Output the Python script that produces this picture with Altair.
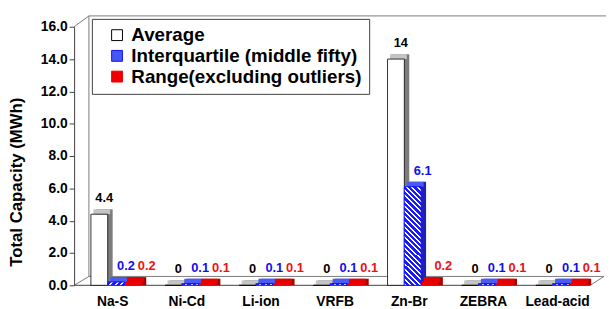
import altair as alt
import pandas as pd

techs = ["Na-S", "Ni-Cd", "Li-ion", "VRFB", "Zn-Br", "ZEBRA", "Lead-acid"]
series_names = ["Average", "Interquartile (middle fifty)", "Range(excluding outliers)"]
average = [4.4, 0, 0, 0, 14, 0, 0]
interquartile = [0.2, 0.1, 0.1, 0.1, 6.1, 0.1, 0.1]
range_excl = [0.2, 0.1, 0.1, 0.1, 0.2, 0.1, 0.1]
y_ticks = [0, 2, 4, 6, 8, 10, 12, 14, 16]

rows = []
for i, t in enumerate(techs):
    for s, vals in zip(series_names, [average, interquartile, range_excl]):
        rows.append({"tech": t, "series": s, "value": vals[i]})
df = pd.DataFrame(rows)

FONT = "Liberation Sans"
fill_colors = ["#ffffff", "#4656f2", "#ee0000"]
stroke_colors = ["#000000", "#1010ff", "#ee0000"]
side_colors = ["#7c7c7c", "#2020b8", "#a80000"]
top_colors = ["#c4c4c4", "#4a5af4", "#e80000"]
text_colors = ["#000000", "#1010ee", "#ee1111"]

x_enc = alt.X(
    "tech:N",
    sort=techs,
    scale=alt.Scale(domain=techs, paddingInner=0.254, paddingOuter=0.16),
    axis=alt.Axis(title=None, labelFont=FONT, labelFontSize=14, labelFontWeight="bold",
                  labelColor="black", ticks=False, domain=False, labelPadding=9,
                  labelAngle=0, labelOffset=-6),
)


def xo(align):
    return alt.XOffset("series:N", sort=series_names,
                       scale=alt.Scale(type="band", domain=series_names, paddingInner=0,
                                       paddingOuter=0.147, align=align))


y_scale = alt.Scale(domain=[0, 16], nice=False, zero=True)
y_enc = alt.Y(
    "value:Q",
    scale=y_scale,
    axis=alt.Axis(values=y_ticks, format=".1f", title="Total Capacity (MWh)",
                  titleFont=FONT, titleFontSize=17, titleFontWeight="bold", titleColor="black",
                  titleAngle=-90, titleX=-58, titleY=157, titleAlign="center", titleBaseline="middle",
                  labelFont=FONT, labelFontSize=14, labelFontWeight="bold", labelColor="black",
                  offset=5, domainColor="#404040", tickColor="#404040", tickSize=5,
                  labelPadding=2, grid=False, labelOverlap=False, tickCount=9),
)

one = pd.DataFrame({"k": [0]})


def seg(x1, y1, x2, y2, color="#7a7a7a"):
    return alt.Chart(one).mark_rule(color=color, strokeWidth=1).encode(
        x=alt.value(x1), y=alt.value(y1), x2=alt.value(x2), y2=alt.value(y2))


frame = [
    seg(-5, 0, 10, -11),
    seg(10, -11, 545, -11),
    seg(10, -11, 10, 253),
    seg(-5, 262, 10, 253),
    seg(10, 253, 532, 253),
    seg(-5, 262, 518, 262, "#404040"),
    seg(518, 262, 532, 253),
]

front_base = alt.Chart(df).encode(x=x_enc, xOffset=xo(0), y=y_enc)
back_base = alt.Chart(df).encode(x=x_enc, xOffset=xo(1), y=y_enc)
top_base = alt.Chart(df).encode(x=x_enc, xOffset=xo(0.5), y=y_enc)

backs = []
for s, c in zip(series_names, side_colors):
    backs.append(
        back_base.transform_filter(alt.datum.series == s)
        .mark_bar(color=c, yOffset=-5)
        .encode(y2=alt.datum(0))
    )
tops = []
for s, c in zip(series_names, top_colors):
    tops.append(
        top_base.transform_filter(alt.datum.series == s)
        .mark_bar(color=c, yOffset=-5)
        .encode(y2=alt.Y2("value:Q"))
    )

legend_kw = dict(title=None, orient="none", legendX=13, legendY=-8,
                 symbolType="square", symbolSize=121,
                 labelFont=FONT, labelFontSize=19, labelFontWeight="bold",
                 labelColor="black", rowPadding=1, padding=7,
                 symbolOffset=9, labelOffset=5, labelLimit=400,
                 fillColor="white", strokeColor="#404040", symbolStrokeWidth=1)

front = front_base.mark_bar(strokeWidth=0.8).encode(
    color=alt.Color("series:N", sort=series_names,
                    scale=alt.Scale(domain=series_names, range=fill_colors),
                    legend=alt.Legend(**legend_kw)),
    stroke=alt.Stroke("series:N", sort=series_names,
                      scale=alt.Scale(domain=series_names, range=stroke_colors),
                      legend=alt.Legend(**legend_kw)),
)

n = 22
stops = []
for k in range(n):
    stops.append({"offset": k / n, "color": "#1a1aff"})
    stops.append({"offset": (k + 0.62) / n, "color": "#1a1aff"})
    stops.append({"offset": (k + 0.62) / n, "color": "#ffffff"})
    stops.append({"offset": (k + 1) / n, "color": "#ffffff"})
hatch = {"gradient": "linear", "x1": 1, "y1": 0, "x2": 0.807, "y2": 1.137, "stops": stops}

hatch_layer = (
    front_base.transform_filter(alt.datum.series == series_names[1])
    .mark_bar(fill=hatch, stroke="#1010ff", strokeWidth=0.8)
)

texts = []
for s, c, dx in zip(series_names, text_colors, [5, 10, 14]):
    texts.append(
        front_base.transform_filter(alt.datum.series == s)
        .mark_text(color=c, font=FONT, fontSize=13, fontWeight="bold", dx=dx, dy=-16,
                   baseline="middle", align="center")
        .encode(text=alt.Text("value:Q", format="~g"))
    )

chart = (
    alt.layer(*frame, *backs, *tops, front, hatch_layer, *texts)
    .resolve_scale(xOffset="independent")
    .properties(width=531, height=262,
                padding={"left": 72, "top": 17, "right": 3, "bottom": 22},
                autosize=alt.AutoSizeParams(type="none"))
    .configure_view(stroke=None)
)

chart.save("out.html", embed_options={"renderer": "svg", "actions": False})
